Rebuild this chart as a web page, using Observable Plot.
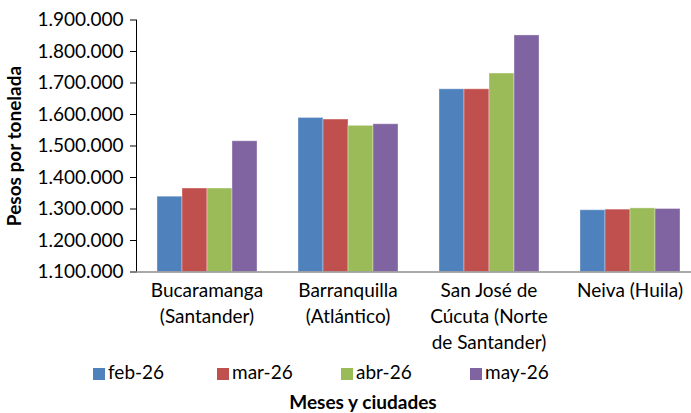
<!DOCTYPE html>
<html>
<head>
<meta charset="utf-8">
<script src="https://cdn.jsdelivr.net/npm/d3@7"></script>
<script src="https://cdn.jsdelivr.net/npm/@observablehq/plot@0.6"></script>
<style>
  html, body { margin: 0; padding: 0; background: #fff; overflow: hidden; }
  #wrap { position: relative; width: 691px; height: 413px; font-family: Lato, "Open Sans", sans-serif; color: #000; }
  #chart svg { overflow: hidden; }
  g[aria-label="y-axis label"] text { font-weight: bold; font-size: 19px; }
  .legend { position: absolute; top: 361px; left: 0; width: 691px; height: 22px; }
  .legend .item { position: absolute; top: 0; height: 22px; line-height: 22px; font-size: 19px; white-space: nowrap; }
  .legend .sw { display: inline-block; width: 12px; height: 12px; margin-right: 3px; vertical-align: -1px; }
  .xtitle { position: absolute; top: 391px; left: 263px; width: 200px; text-align: center; font-weight: bold; font-size: 19px; line-height: 22px; white-space: nowrap; }
</style>
</head>
<body>
<div id="wrap">
  <div id="chart"></div>
  <div class="legend" id="legend"></div>
  <div class="xtitle" id="xtitle"></div>
</div>
<script>
// ---- data ----
const cities = ["Bucaramanga (Santander)", "Barranquilla (Atlántico)", "San José de Cúcuta (Norte de Santander)", "Neiva (Huila)"];
const cityLabels = ["Bucaramanga\n(Santander)", "Barranquilla\n(Atlántico)", "San José de\nCúcuta (Norte\nde Santander)", "Neiva (Huila)"];
const months = ["feb-26", "mar-26", "abr-26", "may-26"];
const feb26 = [1339000, 1589000, 1680000, 1296000];
const mar26 = [1365000, 1584000, 1680000, 1298000];
const abr26 = [1365000, 1564000, 1730000, 1302000];
const may26 = [1515000, 1569000, 1851000, 1300000];
const yTicks = [1100000, 1200000, 1300000, 1400000, 1500000, 1600000, 1700000, 1800000, 1900000];
const yDomain = [1100000, 1900000];
const colors = ["#4F81BD", "#C0504D", "#9BBB59", "#8064A2"];
const yTitle = "Pesos por tonelada";
const xTitle = "Meses y ciudades";

const series = [feb26, mar26, abr26, may26];
const data = [];
cities.forEach((c, i) => months.forEach((m, j) => data.push({city: c, month: m, value: series[j][i]})));
const labelOf = new Map(cities.map((c, i) => [c, cityLabels[i]]));

const locale = d3.formatLocale({decimal: ",", thousands: ".", grouping: [3], currency: ["$", ""]});
const fmt = locale.format(",d");

const chart = Plot.plot({
  width: 691,
  height: 352,
  marginLeft: 134,
  marginRight: -10,
  marginTop: 19.5,
  marginBottom: 80.5,
  style: {fontFamily: "Lato, 'Open Sans', sans-serif", fontSize: "19px", color: "#000", background: "white"},
  fx: {domain: cities, padding: 0, label: null},
  x: {domain: months, paddingInner: 0, paddingOuter: 0.75, axis: null},
  y: {domain: yDomain, ticks: yTicks, tickFormat: fmt, tickSize: 6, tickPadding: 7, line: true,
      label: yTitle, labelAnchor: "center", labelOffset: 129, labelArrow: "none"},
  color: {domain: months, range: colors},
  marks: [
    Plot.barY(data, {fx: "city", x: "month", y1: yDomain[0], y2: "value", fill: "month",
      stroke: "#ffffff", strokeOpacity: 0.35, strokeWidth: 1, inset: 0}),
    Plot.ruleY([yDomain[0]], {stroke: "#8c8c8c", strokeWidth: 1.5}),
    Plot.axisFx({anchor: "bottom", tickSize: 0, tickPadding: 6, lineHeight: 1.38, label: null,
      tickFormat: d => labelOf.get(d), fontSize: 19})
  ]
});
chart.querySelectorAll('g[aria-label="y-axis tick"], g[aria-label="y-axis line"]').forEach(g => {
  g.setAttribute("stroke", "#8c8c8c");
});
document.getElementById("chart").appendChild(chart);

// legend
const legendPos = [93, 217, 341, 470];
const legend = document.getElementById("legend");
months.forEach((m, i) => {
  const item = document.createElement("div");
  item.className = "item";
  item.style.left = legendPos[i] + "px";
  const sw = document.createElement("span");
  sw.className = "sw";
  sw.style.background = colors[i];
  item.appendChild(sw);
  item.appendChild(document.createTextNode(m));
  legend.appendChild(item);
});
document.getElementById("xtitle").textContent = xTitle;
</script>
</body>
</html>
